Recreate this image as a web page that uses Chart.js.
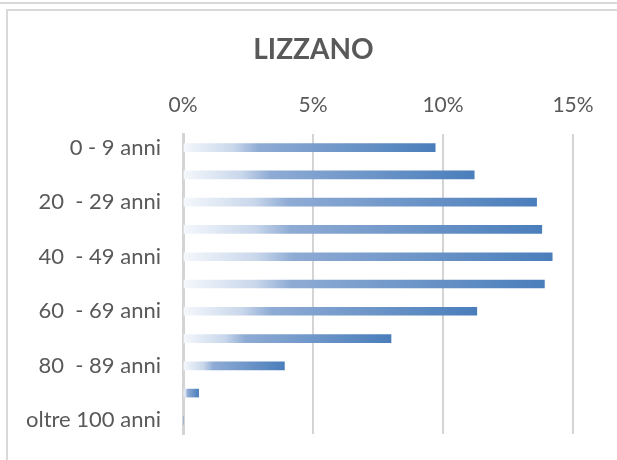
<!DOCTYPE html>
<html>
<head>
<meta charset="utf-8">
<script src="https://cdn.jsdelivr.net/npm/chart.js@4.4.1/dist/chart.umd.min.js"></script>
<style>
  html, body { margin: 0; padding: 0; background: #fff; }
  body { width: 617px; height: 460px; position: relative; overflow: hidden; }
  .topline { position: absolute; left: 0; top: 2px; width: 617px; height: 2px; background: #d9d9d9; }
  .frame { position: absolute; left: 6px; top: 9px; width: 620px; height: 460px;
           border-left: 2px solid #d9d9d9; border-top: 2px solid #d9d9d9; }
  .wrap { position: absolute; left: 0; top: 0; width: 617px; height: 460px; }
</style>
</head>
<body>
<div class="topline"></div>
<div class="frame"></div>
<div class="wrap"><canvas id="myChart"></canvas></div>
<script>
// fasce d'età e quota percentuale della popolazione
var categorie = ['0 - 9 anni', '10 - 19 anni', '20  - 29 anni', '30 - 39 anni', '40  - 49 anni',
  '50 - 59 anni', '60  - 69 anni', '70 - 79 anni', '80  - 89 anni', '90 - 99 anni', 'oltre 100 anni'];
var percentuali = [9.7, 11.2, 13.6, 13.8, 14.2, 13.9, 11.3, 8.0, 3.9, 0.6, 0];
var tickX = [0, 5, 10, 15];

var blu = '#4a7ebb';

function gradiente(c) {
  var chart = c.chart;
  if (!chart.chartArea || c.raw == null) return blu;
  var x0 = chart.scales.x.getPixelForValue(0);
  var x1 = chart.scales.x.getPixelForValue(c.raw);
  if (x1 - x0 < 1) return blu;
  var g = chart.ctx.createLinearGradient(x0, 0, x1, 0);
  g.addColorStop(0, '#f5f8fc');
  g.addColorStop(0.2, '#c9d7eb');
  g.addColorStop(0.3, '#8eabd4');
  g.addColorStop(1, blu);
  return g;
}

// il titolo in Excel è centrato sul riquadro, non sull'area del grafico
var spostaTitolo = {
  id: 'spostaTitolo',
  afterLayout: function (chart) {
    chart.titleBlock.left += 27;
    chart.titleBlock.right += 27;
  }
};

const ctx = document.getElementById('myChart').getContext('2d');
var grafico = new Chart(ctx, {
  type: 'bar',
  data: {
    labels: categorie,
    datasets: [{
      label: 'LIZZANO',
      data: percentuali,
      backgroundColor: gradiente,
      borderWidth: 0,
      barThickness: 8
    }]
  },
  options: {
    indexAxis: 'y',
    responsive: true,
    maintainAspectRatio: false,
    animation: false,
    layout: { padding: { left: 0, right: 44, top: 0, bottom: 26 } },
    plugins: {
      legend: { display: false },
      tooltip: { enabled: false },
      title: {
        display: true,
        text: 'LIZZANO',
        color: '#595959',
        font: { family: 'Lato', size: 28, weight: 'bold' },
        padding: { top: 33, bottom: 0 }
      }
    },
    scales: {
      x: {
        position: 'top',
        min: 0,
        max: 15,
        afterBuildTicks: function (s) { s.ticks = tickX.map(function (v) { return { value: v }; }); },
        afterFit: function (s) { s.height = 67.4; },
        ticks: {
          color: '#595959',
          font: { family: 'Lato', size: 21 },
          padding: 16,
          callback: function (v) { return v + '%'; }
        },
        grid: { color: '#d4d4d4', lineWidth: 2, drawTicks: false },
        border: { display: false }
      },
      y: {
        afterFit: function (s) {
          s.width = 183;
          s.paddingTop = 0;
          s.paddingBottom = 0;
        },
        ticks: {
          autoSkip: false,
          color: '#595959',
          font: { family: 'Lato', size: 22 },
          padding: 22,
          callback: function (v, i) { return i % 2 === 0 ? categorie[i] : ''; }
        },
        grid: { display: false, drawTicks: false },
        border: { display: true, color: '#d4d4d4', width: 3 }
      }
    }
  },
  plugins: [spostaTitolo]
});
</script>
</body>
</html>
